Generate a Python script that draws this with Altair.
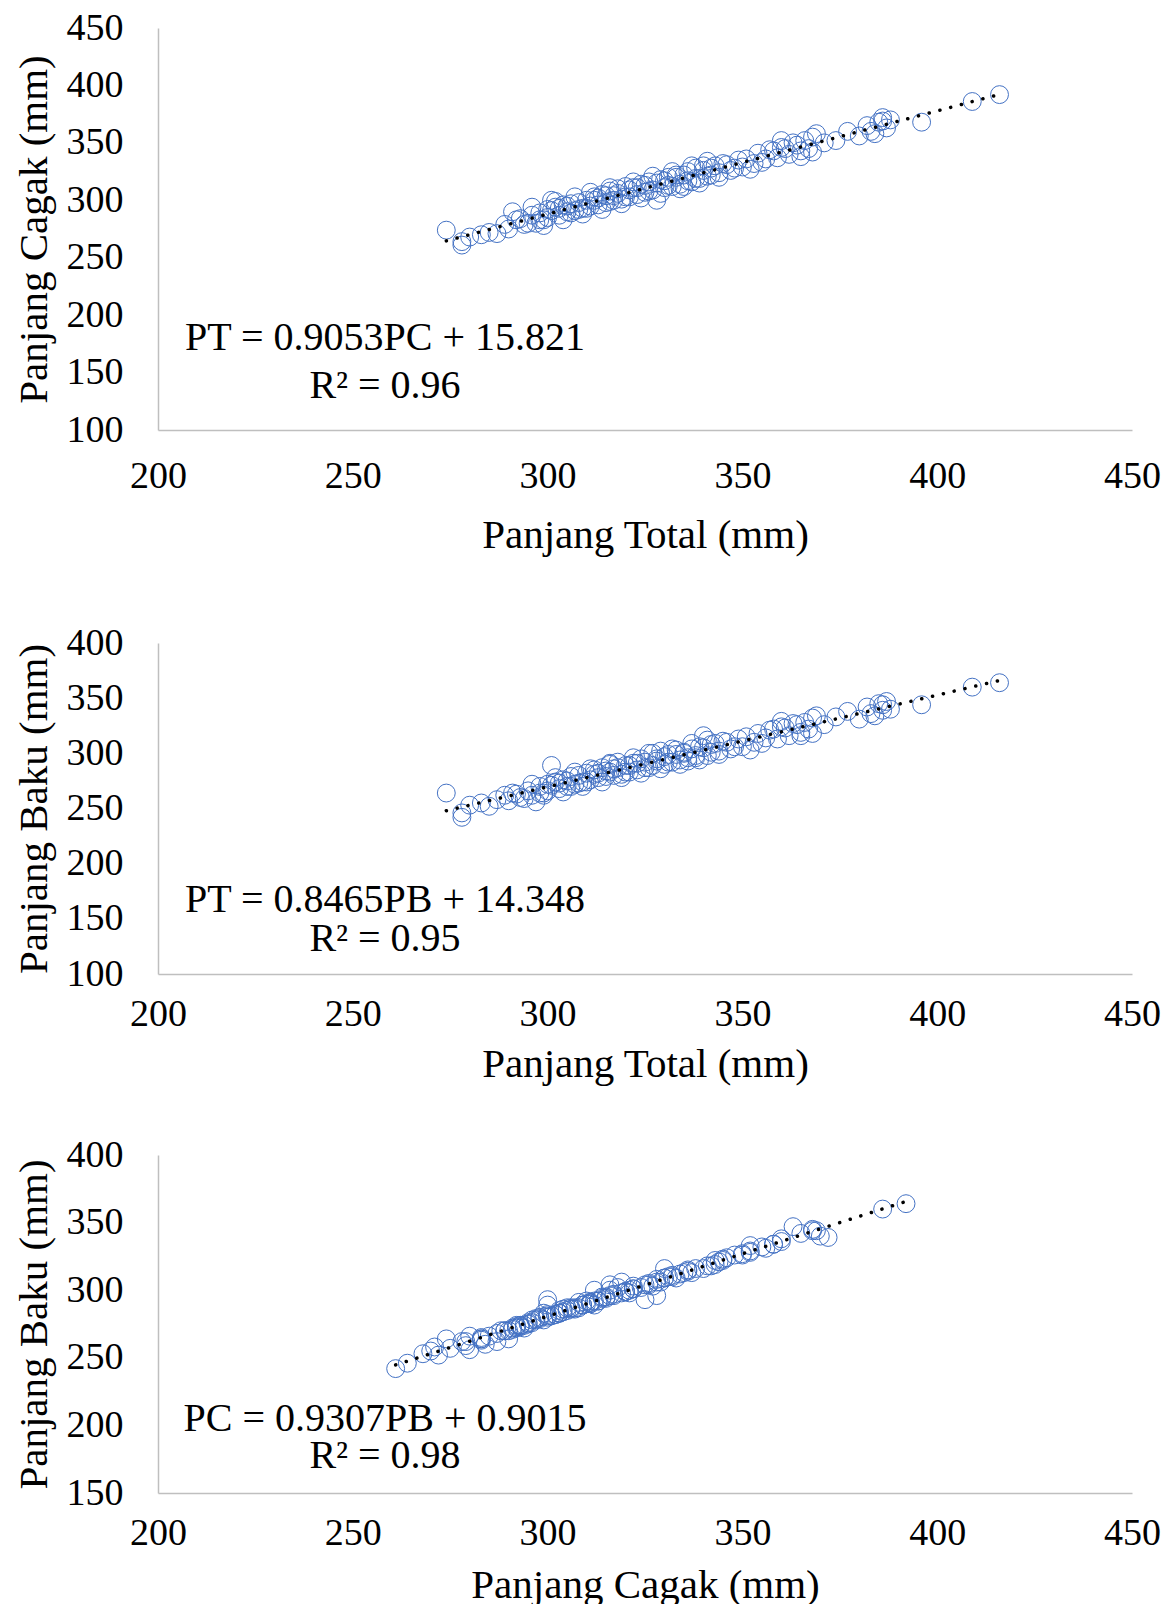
import altair as alt
import pandas as pd

# Fish measurements (mm): total length, fork length, standard length
PT = [274, 278, 278, 280, 283, 285, 287, 289, 290, 291, 293, 295, 296, 297, 298, 299, 300, 300,
      301, 302, 303, 304, 305, 306, 307, 308, 309, 310, 311, 312, 313, 314, 315, 316, 316, 317,
      318, 319, 320, 321, 322, 323, 324, 325, 326, 327, 328, 329, 330, 331, 332, 333, 334, 335,
      336, 337, 338, 339, 340, 341, 342, 344, 345, 347, 349, 350, 352, 354, 355, 357, 359, 360,
      362, 363, 365, 366, 368, 368, 371, 374, 377, 380, 382, 384, 385, 386, 387, 388, 396, 409, 416,
      292, 294, 298, 301, 303, 305, 306, 308, 310, 312, 313, 315, 317, 318, 320, 321, 323, 325,
      326, 328, 330, 331, 333, 335, 336, 338, 340, 342, 343, 346, 348, 351, 353, 356, 358, 361,
      364, 367, 383, 386,
      296, 299, 302, 304, 307, 309, 311, 314, 316, 319, 322, 324, 327, 329, 332, 334, 337, 339,
      341, 344, 360, 365, 369]
PC = [274, 261, 264, 268, 270, 272, 271, 279, 275, 290, 284, 280, 287, 280, 289, 283, 292, 285,
      300, 294, 287, 296, 290, 297, 291, 298, 293, 300, 295, 303, 296, 305, 298, 308, 299, 304,
      310, 301, 312, 303, 311, 305, 314, 307, 316, 309, 300, 318, 311, 320, 312, 322, 314, 312,
      325, 316, 328, 319, 330, 321, 328, 324, 332, 326, 335, 329, 327, 341, 333, 344, 337, 346,
      340, 350, 343, 352, 342, 355, 350, 352, 360, 356, 365, 358, 368, 372, 363, 370, 368, 386, 392,
      283, 279, 283, 291, 293, 295, 289, 292, 293, 300, 302, 304, 300, 306, 303, 309, 311, 313,
      308, 315, 317, 313, 320, 322, 317, 319, 326, 322, 330, 331, 328, 336, 332, 336, 343, 345,
      348, 345, 360, 369,
      294, 278, 299, 283, 303, 288, 307, 292, 311, 297, 316, 302, 321, 306, 325, 310, 330, 315,
      334, 320, 352, 338, 358]
PB = [264, 242, 246, 253, 255, 252, 258, 262, 257, 264, 260, 266, 262, 256, 270, 264, 272, 266,
      289, 274, 268, 276, 270, 279, 272, 280, 274, 282, 276, 285, 278, 287, 279, 291, 283, 286,
      292, 281, 289, 283, 291, 285, 295, 287, 300, 289, 293, 302, 290, 299, 292, 303, 294, 300,
      293, 304, 296, 306, 316, 298, 308, 302, 311, 304, 313, 306, 303, 318, 309, 321, 313, 324,
      316, 327, 319, 328, 318, 332, 326, 333, 338, 331, 342, 334, 345, 339, 347, 340, 344, 360, 364,
      263, 259, 264, 271, 273, 275, 270, 273, 274, 281, 282, 284, 280, 287, 283, 289, 291, 292,
      287, 295, 297, 292, 299, 301, 296, 298, 305, 301, 309, 310, 306, 315, 310, 314, 322, 323,
      326, 322, 336, 344,
      272, 262, 278, 265, 283, 270, 286, 274, 290, 278, 296, 282, 300, 286, 304, 290, 309, 294,
      312, 299, 329, 316, 334]

X_TICKS = [200, 250, 300, 350, 400, 450]

df = pd.DataFrame({"PT": PT, "PC": PC, "PB": PB})

FONT = "Liberation Serif"
BLUE = "#4472C4"
W = 974


def panel(xcol, ycol, xtitle, ytitle, ydom, yticks, h, eq, r2, eq_y, r2_y, lp, tp):
    xenc = alt.X(f"{xcol}:Q",
                 scale=alt.Scale(domain=[200, 450], nice=False, zero=False),
                 axis=alt.Axis(values=X_TICKS, title=xtitle, labelPadding=lp,
                               titlePadding=tp, labelFlush=False))
    yenc = alt.Y(f"{ycol}:Q",
                 scale=alt.Scale(domain=ydom, nice=False, zero=False),
                 axis=alt.Axis(values=yticks, title=ytitle, labelPadding=35,
                               titlePadding=11, labelFlush=False))
    base = alt.Chart(df)
    pts = base.mark_point(shape="circle", filled=False, color=BLUE, size=320,
                          strokeWidth=1, opacity=1).encode(x=xenc, y=yenc)
    trend = base.transform_regression(xcol, ycol).mark_line(
        color="black", strokeWidth=3.5, strokeDash=[0.1, 11], strokeCap="round"
    ).encode(x=xenc, y=yenc)
    t1 = alt.Chart(pd.DataFrame({"t": [eq]})).mark_text(
        font=FONT, fontSize=40, color="black", align="center", baseline="middle"
    ).encode(x=alt.value(227), y=alt.value(eq_y), text="t:N")
    t2 = alt.Chart(pd.DataFrame({"t": [r2]})).mark_text(
        font=FONT, fontSize=40, color="black", align="center", baseline="middle"
    ).encode(x=alt.value(227), y=alt.value(r2_y), text="t:N")
    return alt.layer(pts, trend, t1, t2).properties(width=W, height=h)


p1 = panel("PT", "PC", "Panjang Total (mm)", "Panjang Cagak (mm)", [100, 450],
           [100, 150, 200, 250, 300, 350, 400, 450], 402,
           "PT = 0.9053PC + 15.821", "R² = 0.96", 310, 358, 27, 20)
p2 = panel("PT", "PB", "Panjang Total (mm)", "Panjang Baku (mm)", [100, 400],
           [100, 150, 200, 250, 300, 350, 400], 331,
           "PT = 0.8465PB + 14.348", "R² = 0.95", 257, 296, 21, 11)
p3 = panel("PC", "PB", "Panjang Cagak (mm)", "Panjang Baku (mm)", [150, 400],
           [150, 200, 250, 300, 350, 400], 338,
           "PC = 0.9307PB + 0.9015", "R² = 0.98", 264, 301, 21, 13)

chart = alt.vconcat(alt.vconcat(p1, p2, spacing=69), p3, spacing=52).properties(
    padding={"left": 5, "top": 1, "right": 5, "bottom": 0},
    background="white"
).configure_axis(
    domainColor="#BFBFBF", domainWidth=1.5, ticks=False, grid=False,
    labelFont=FONT, labelFontSize=38, labelColor="black",
    titleFont=FONT, titleFontSize=41, titleFontWeight="normal", titleColor="black"
).configure_view(strokeWidth=0)

chart.save("out.html", embed_options={"renderer": "svg", "actions": False})
